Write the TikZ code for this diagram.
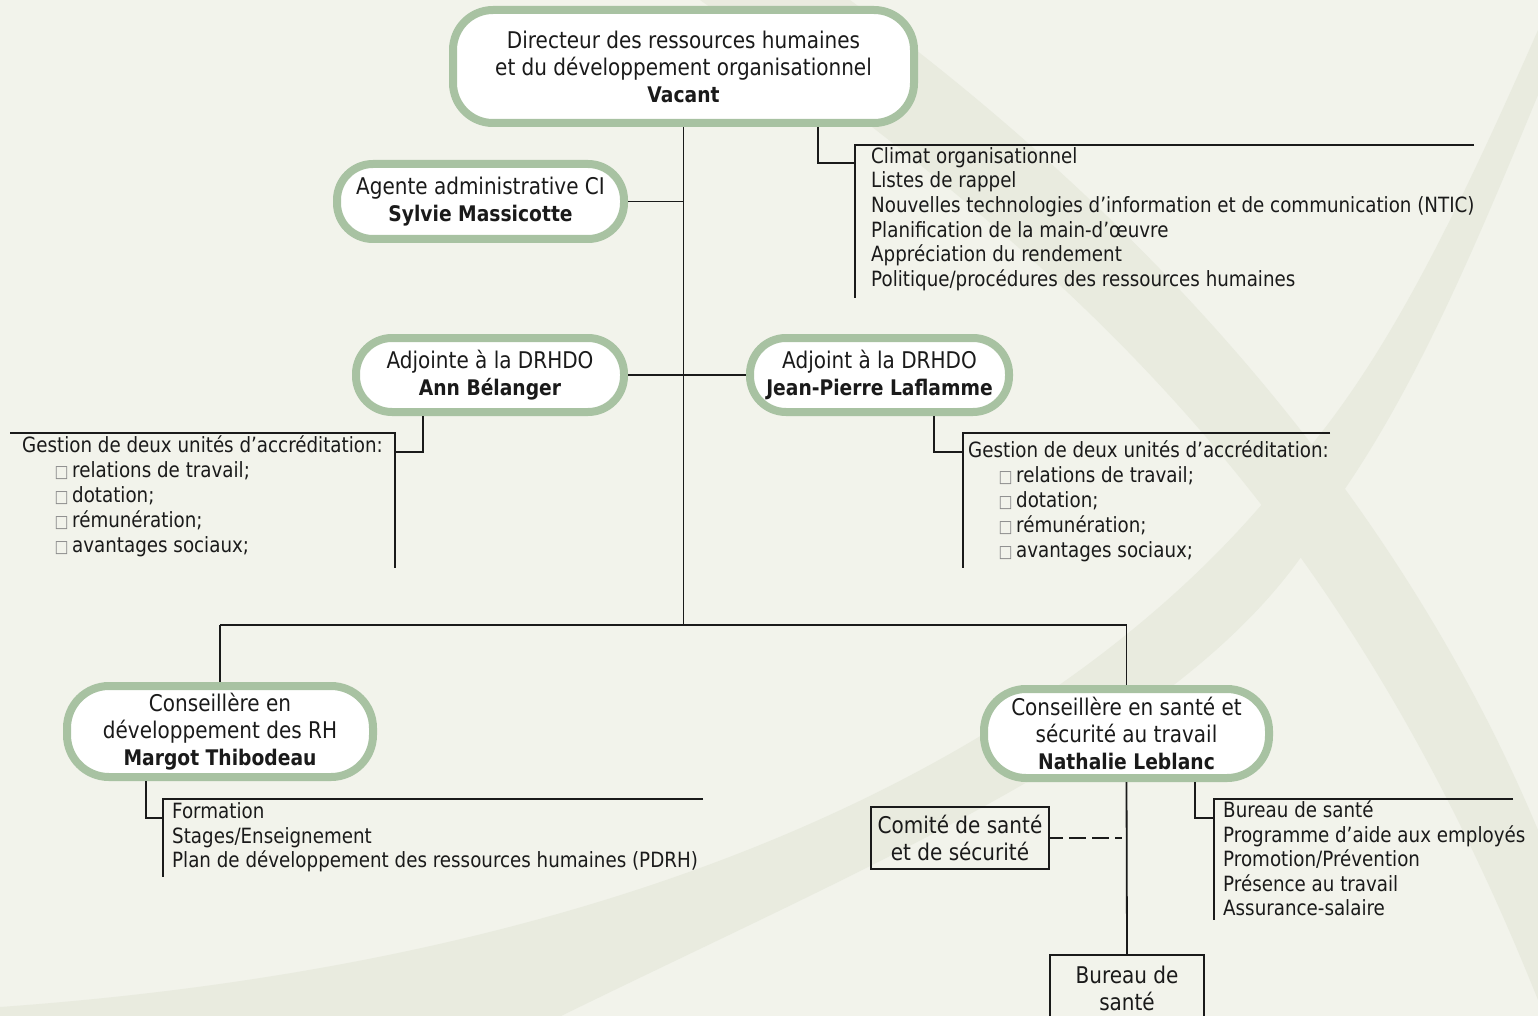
\documentclass[tikz,border=0pt]{standalone}
\usepackage{fontspec}
\setmainfont{DejaVu Sans}[FakeStretch=0.87]
\usetikzlibrary{calc}
\definecolor{bg}{HTML}{F2F3EB}
\definecolor{band}{HTML}{E9EBDF}
\definecolor{boxgreen}{HTML}{A8C2A2}
\definecolor{ink}{HTML}{1A1A1A}
\definecolor{tofu}{HTML}{8A8A8A}
\tikzset{
  rolebox/.style={draw=boxgreen, line width=8pt, fill=white, rounded corners=#1,
    align=center, font=\fontsize{23}{27}\selectfont, text=ink, inner sep=0pt},
  plainbox/.style={draw=ink, line width=2pt, align=center,
    font=\fontsize{23}{27}\selectfont, text=ink, inner sep=0pt},
  link/.style={draw=ink, line width=1.8pt},
  item/.style={anchor=west, inner sep=0pt, font=\fontsize{21}{24}\selectfont,
    text=ink, text height=15pt, text depth=4pt},
}
\newcommand{\bx}{{\fontsize{17}{17}\selectfont\textcolor{tofu}{□}}\kern3.5pt}
\newcommand{\nm}[1]{{\fontsize{21.5}{27}\selectfont\bfseries #1}}
\begin{document}
\begin{tikzpicture}[x=1pt,y=-1pt]
\useasboundingbox (0,0) rectangle (1538,1016);
\clip (0,0) rectangle (1538,1016);
\fill[bg] (0,0) rectangle (1538,1016);
% decorative bands
\fill[band] (850,0) .. controls (1150,220) and (1400,500) .. (1538,830)
  -- (1538,1016) -- (1538,1000) .. controls (1330,480) and (1050,250) .. (700,0) -- cycle;
\fill[band] (1538,30) .. controls (1450,230) and (1380,370) .. (1290,470)
  .. controls (1150,650) and (800,950) .. (0,1007) -- (0,1016) -- (561,1016)
  .. controls (900,850) and (1220,720) .. (1330,510)
  .. controls (1410,400) and (1470,260) .. (1538,95) -- cycle;

% role boxes
\node[rolebox=40pt, minimum width=461pt, minimum height=113pt] (dir) at (683.5,66.5)
  {Directeur des ressources humaines\\et du développement organisationnel\\\nm{Vacant}};
\node[rolebox=36pt, minimum width=287pt, minimum height=75pt] (agente) at (480.5,201.5)
  {Agente administrative CI\\\nm{Sylvie Massicotte}};
\node[rolebox=36pt, minimum width=268pt, minimum height=74pt] (adjf) at (490,375)
  {Adjointe à la DRHDO\\\nm{Ann Bélanger}};
\node[rolebox=36pt, minimum width=259pt, minimum height=74pt] (adjm) at (879.5,375)
  {Adjoint à la DRHDO\\\nm{Jean-Pierre Laflamme}};
\node[rolebox=42pt, minimum width=306pt, minimum height=91pt] (margot) at (220,731.5)
  {Conseillère en\\développement des RH\\\nm{Margot Thibodeau}};
\node[rolebox=42pt, minimum width=285pt, minimum height=89pt] (nath) at (1126.5,733.5)
  {Conseillère en santé et\\sécurité au travail\\\nm{Nathalie Leblanc}};
\node[plainbox, minimum width=178pt, minimum height=62pt] (comite) at (960,838)
  {Comité de santé\\et de sécurité};
\node[plainbox, minimum width=154pt, minimum height=66pt, anchor=north] (bureau) at (1127,954)
  {Bureau de\\santé};

% main structure
\coordinate (bus) at (0,625);
\draw[link] (dir.south) -- (dir.south |- bus);
\draw[link] (margot.north |- bus) -- (nath.north |- bus);
\draw[link] (margot.north |- bus) -- (margot.north);
\draw[link] (nath.north |- bus) -- (nath.north);
\draw[link] (agente.east) -- (agente.east -| dir.south);
\draw[link] (adjf.east) -- (adjm.west);
\draw[link] (nath.south) -- (bureau.north);
\draw[link, dash pattern=on 17pt off 6pt, dash phase=4pt] (comite.east) -- ($(comite.east -| nath.south)+(-5,0)$);

% list: director
\coordinate (clTop) at (855,145);
\coordinate (clEnd) at (1474,145);
\coordinate (clBot) at (855,298);
\draw[link] (clEnd) -- (clTop) -- (clBot);
\draw[link] ($(dir.south)+(134.5,0)$) |- ($(clTop)+(0,18)$);
\node[item] (cl1) at (871,158) {Climat organisationnel};
\node[item] (cl2) at (871,182.5) {Listes de rappel};
\node[item] (cl3) at (871,207) {Nouvelles technologies d’information et de communication (NTIC)};
\node[item] (cl4) at (871,231.5) {Planification de la main-d’œuvre};
\node[item] (cl5) at (871,256) {Appréciation du rendement};
\node[item] (cl6) at (871,280.5) {Politique/procédures des ressources humaines};

% list: adjointe
\coordinate (alTop) at (395,433);
\coordinate (alEnd) at (10,433);
\coordinate (alBot) at (395,568);
\draw[link] (alEnd) -- (alTop) -- (alBot);
\draw[link] ($(adjf.south)+(-67,0)$) |- ($(alTop)+(0,19)$);
\node[item] (al0) at (22,447) {Gestion de deux unités d’accréditation:};
\node[item] (al1) at (54.5,472) {\bx relations de travail;};
\node[item] (al2) at (54.5,497) {\bx dotation;};
\node[item] (al3) at (54.5,522) {\bx rémunération;};
\node[item] (al4) at (54.5,547) {\bx avantages sociaux;};

% list: adjoint
\coordinate (arTop) at (963,433);
\coordinate (arEnd) at (1330,433);
\coordinate (arBot) at (963,568);
\draw[link] (arEnd) -- (arTop) -- (arBot);
\draw[link] ($(adjm.south)+(54.5,0)$) |- ($(arTop)+(0,19)$);
\node[item] (ar0) at (968,452) {Gestion de deux unités d’accréditation:};
\node[item] (ar1) at (998.5,477) {\bx relations de travail;};
\node[item] (ar2) at (998.5,502) {\bx dotation;};
\node[item] (ar3) at (998.5,527) {\bx rémunération;};
\node[item] (ar4) at (998.5,552) {\bx avantages sociaux;};

% list: margot
\coordinate (mlTop) at (163,799);
\coordinate (mlEnd) at (703,799);
\coordinate (mlBot) at (163,877);
\draw[link] (mlEnd) -- (mlTop) -- (mlBot);
\draw[link] ($(margot.south)+(-74,0)$) |- ($(mlTop)+(0,19)$);
\node[item] (ml1) at (172,813) {Formation};
\node[item] (ml2) at (172,837.5) {Stages/Enseignement};
\node[item] (ml3) at (172,862) {Plan de développement des ressources humaines (PDRH)};

% list: nathalie
\coordinate (nlTop) at (1214,799);
\coordinate (nlEnd) at (1513,799);
\coordinate (nlBot) at (1214,920);
\draw[link] (nlEnd) -- (nlTop) -- (nlBot);
\draw[link] ($(nath.south)+(68.5,0)$) |- ($(nlTop)+(0,19)$);
\node[item] (nl1) at (1223,812) {Bureau de santé};
\node[item] (nl2) at (1223,836.5) {Programme d’aide aux employés};
\node[item] (nl3) at (1223,861) {Promotion/Prévention};
\node[item] (nl4) at (1223,885.5) {Présence au travail};
\node[item] (nl5) at (1223,910) {Assurance-salaire};
\end{tikzpicture}
\end{document}
